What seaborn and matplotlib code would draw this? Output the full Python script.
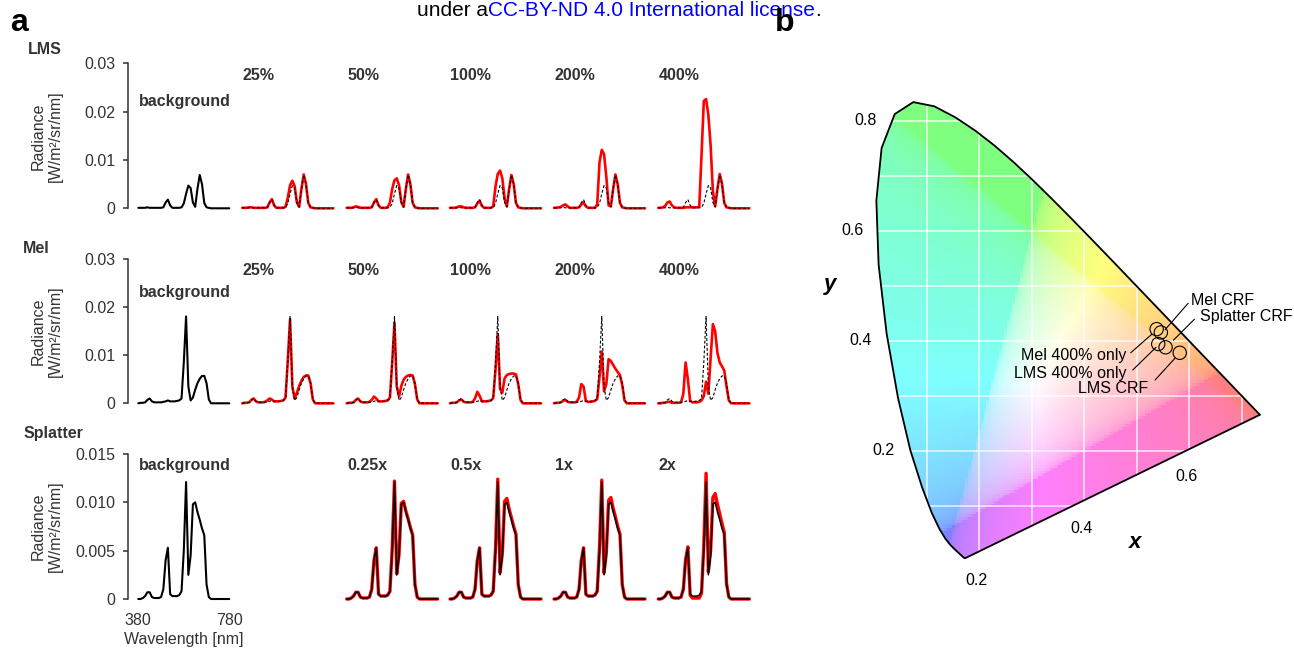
import numpy as np
import matplotlib
matplotlib.use("Agg")
import matplotlib.pyplot as plt
import seaborn as sns
from matplotlib.patches import Polygon

sns.set_theme(style="white")
plt.rcParams["font.family"] = ["Liberation Sans", "DejaVu Sans"]

# ---------------- data ----------------
WL = list(range(380, 781, 10))
Z9 = [0.0] * 9

LMS_BG = [0.0001,0.0001,0.0001,0.0001,0.0002,0.0001,0.0001,0.0001,0.0001,0.0001,
          0.0001,0.0002,0.0012,0.0018,0.0006,0.0001,0.0001,0.0001,0.0001,0.0002,
          0.0010,0.0030,0.0047,0.0042,0.0012,0.0003,0.0040,0.0069,0.0050,0.0011,
          0.0002,0.0001] + Z9
LMS_25 = [0.0001,0.0001,0.0001,0.0002,0.0002,0.0001,0.0001,0.0001,0.0001,0.0001,
          0.0001,0.0002,0.0012,0.0019,0.0006,0.0001,0.0001,0.0001,0.0001,0.0003,
          0.0022,0.0048,0.0057,0.0046,0.0012,0.0003,0.0040,0.0070,0.0050,0.0011,
          0.0002,0.0001] + Z9
LMS_50 = [0.0001,0.0001,0.0001,0.0002,0.0004,0.0003,0.0001,0.0001,0.0001,0.0001,
          0.0001,0.0002,0.0012,0.0019,0.0006,0.0001,0.0001,0.0001,0.0002,0.0012,
          0.0040,0.0058,0.0062,0.0048,0.0013,0.0003,0.0040,0.0070,0.0050,0.0011,
          0.0002,0.0001] + Z9
LMS_100 = [0.0001,0.0001,0.0001,0.0002,0.0004,0.0004,0.0002,0.0001,0.0001,0.0001,
           0.0001,0.0002,0.0010,0.0016,0.0005,0.0001,0.0001,0.0001,0.0001,0.0004,
           0.0045,0.0071,0.0078,0.0062,0.0020,0.0004,0.0040,0.0069,0.0050,0.0011,
           0.0002,0.0001] + Z9
LMS_200 = [0.0001,0.0001,0.0002,0.0003,0.0006,0.0008,0.0004,0.0001,0.0001,0.0001,
           0.0001,0.0002,0.0008,0.0012,0.0004,0.0001,0.0001,0.0001,0.0001,0.0008,
           0.0095,0.0121,0.0112,0.0065,0.0006,0.0004,0.0040,0.0070,0.0050,0.0011,
           0.0002,0.0001] + Z9
LMS_400 = [0.0001,0.0001,0.0002,0.0005,0.0012,0.0014,0.0006,0.0002,0.0001,0.0001,
           0.0001,0.0001,0.0002,0.0002,0.0002,0.0002,0.0002,0.0002,0.0003,0.0110,
           0.0222,0.0226,0.0193,0.0130,0.0035,0.0004,0.0040,0.0071,0.0051,0.0011,
           0.0002,0.0001] + Z9

MEL_BG = [0.0000,0.0001,0.0001,0.0002,0.0007,0.0010,0.0004,0.0002,0.0002,0.0002,
          0.0002,0.0003,0.0004,0.0006,0.0004,0.0004,0.0004,0.0005,0.0006,0.0010,
          0.0085,0.0181,0.0035,0.0006,0.0012,0.0028,0.0042,0.0051,0.0057,0.0057,
          0.0042,0.0008] + Z9
MEL_25 = [0.0000,0.0001,0.0001,0.0002,0.0007,0.0010,0.0004,0.0002,0.0002,0.0002,
          0.0003,0.0006,0.0010,0.0008,0.0004,0.0004,0.0004,0.0005,0.0006,0.0012,
          0.0090,0.0175,0.0035,0.0010,0.0022,0.0036,0.0047,0.0055,0.0058,0.0058,
          0.0042,0.0008] + Z9
MEL_50 = [0.0000,0.0001,0.0001,0.0002,0.0007,0.0010,0.0004,0.0002,0.0002,0.0002,
          0.0003,0.0007,0.0014,0.0010,0.0004,0.0004,0.0004,0.0005,0.0006,0.0012,
          0.0085,0.0168,0.0035,0.0014,0.0036,0.0049,0.0055,0.0058,0.0059,0.0058,
          0.0040,0.0008] + Z9
MEL_100 = [0.0000,0.0001,0.0001,0.0002,0.0006,0.0008,0.0003,0.0002,0.0002,0.0002,
           0.0003,0.0010,0.0024,0.0016,0.0004,0.0004,0.0004,0.0005,0.0006,0.0011,
           0.0070,0.0144,0.0030,0.0022,0.0052,0.0059,0.0061,0.0062,0.0062,0.0060,
           0.0040,0.0007] + Z9
MEL_200 = [0.0000,0.0001,0.0001,0.0002,0.0005,0.0007,0.0003,0.0002,0.0002,0.0002,
           0.0003,0.0012,0.0040,0.0035,0.0005,0.0003,0.0003,0.0004,0.0005,0.0009,
           0.0055,0.0108,0.0025,0.0040,0.0092,0.0088,0.0080,0.0072,0.0065,0.0059,
           0.0038,0.0006] + Z9
MEL_400 = [0.0000,0.0000,0.0001,0.0001,0.0003,0.0003,0.0001,0.0001,0.0001,0.0001,
           0.0002,0.0020,0.0085,0.0050,0.0005,0.0002,0.0002,0.0002,0.0003,0.0006,
           0.0015,0.0045,0.0020,0.0095,0.0165,0.0150,0.0105,0.0085,0.0077,0.0068,
           0.0035,0.0006] + Z9

SPL_BG = [0.0000,0.0000,0.0001,0.0003,0.0007,0.0007,0.0002,0.0001,0.0001,0.0001,
          0.0002,0.0010,0.0040,0.0053,0.0005,0.0003,0.0003,0.0003,0.0004,0.0008,
          0.0050,0.0121,0.0025,0.0045,0.0098,0.0100,0.0090,0.0082,0.0073,0.0066,
          0.0015,0.0002] + Z9
SPL_025 = [0.0000,0.0000,0.0001,0.0003,0.0007,0.0007,0.0002,0.0001,0.0001,0.0001,
           0.0002,0.0010,0.0040,0.0053,0.0005,0.0003,0.0003,0.0003,0.0004,0.0008,
           0.0052,0.0122,0.0026,0.0046,0.0099,0.0101,0.0091,0.0083,0.0074,0.0066,
           0.0015,0.0002] + Z9
SPL_05 = [0.0000,0.0000,0.0001,0.0003,0.0007,0.0007,0.0002,0.0001,0.0001,0.0001,
          0.0002,0.0010,0.0040,0.0053,0.0005,0.0003,0.0003,0.0003,0.0004,0.0008,
          0.0052,0.0124,0.0027,0.0047,0.0101,0.0104,0.0093,0.0084,0.0075,0.0067,
          0.0015,0.0002] + Z9
SPL_1 = [0.0000,0.0000,0.0001,0.0003,0.0007,0.0007,0.0002,0.0001,0.0001,0.0001,
         0.0002,0.0010,0.0040,0.0053,0.0005,0.0003,0.0003,0.0003,0.0004,0.0008,
         0.0053,0.0123,0.0027,0.0048,0.0102,0.0105,0.0094,0.0085,0.0075,0.0067,
         0.0015,0.0002] + Z9
SPL_2 = [0.0000,0.0000,0.0001,0.0003,0.0007,0.0007,0.0002,0.0001,0.0001,0.0001,
         0.0002,0.0010,0.0041,0.0054,0.0004,0.0001,0.0001,0.0001,0.0001,0.0006,
         0.0055,0.0130,0.0028,0.0050,0.0105,0.0109,0.0098,0.0088,0.0078,0.0069,
         0.0016,0.0002] + Z9

LMS_LABELS = ["25%", "50%", "100%", "200%", "400%"]
MEL_LABELS = ["25%", "50%", "100%", "200%", "400%"]
SPL_LABELS = ["0.25x", "0.5x", "1x", "2x"]

# CIE 1931 spectral locus (380-700 nm, 5 nm)
LOCUS_X = [0.1741,0.1740,0.1738,0.1736,0.1733,0.1730,0.1726,0.1721,0.1714,0.1703,
           0.1689,0.1669,0.1644,0.1611,0.1566,0.1510,0.1440,0.1355,0.1241,0.1096,
           0.0913,0.0687,0.0454,0.0235,0.0082,0.0039,0.0139,0.0389,0.0743,0.1142,
           0.1547,0.1929,0.2296,0.2658,0.3016,0.3373,0.3731,0.4087,0.4441,0.4788,
           0.5125,0.5448,0.5752,0.6029,0.6270,0.6482,0.6658,0.6801,0.6915,0.7006,
           0.7079,0.7140,0.7190,0.7230,0.7260,0.7283,0.7300,0.7311,0.7320,0.7327,
           0.7334,0.7340,0.7344,0.7346,0.7347]
LOCUS_Y = [0.0050,0.0050,0.0049,0.0049,0.0048,0.0048,0.0048,0.0048,0.0051,0.0058,
           0.0069,0.0086,0.0109,0.0138,0.0177,0.0227,0.0297,0.0399,0.0578,0.0868,
           0.1327,0.2007,0.2950,0.4127,0.5384,0.6548,0.7502,0.8120,0.8338,0.8262,
           0.8059,0.7816,0.7543,0.7243,0.6923,0.6589,0.6245,0.5896,0.5547,0.5202,
           0.4866,0.4544,0.4242,0.3965,0.3725,0.3514,0.3340,0.3197,0.3083,0.2993,
           0.2920,0.2859,0.2809,0.2770,0.2740,0.2717,0.2700,0.2689,0.2680,0.2673,
           0.2666,0.2660,0.2656,0.2654,0.2653]

POINT_NAMES = ["Mel 400% only", "Mel CRF", "LMS 400% only", "Splatter CRF", "LMS CRF"]
POINT_X = [0.538, 0.546, 0.541, 0.555, 0.582]
POINT_Y = [0.421, 0.415, 0.394, 0.388, 0.378]

# ---------------- figure ----------------
W, H = 1294, 648
fig = plt.figure(figsize=(W / 100, H / 100), dpi=100)
TXT = "#333333"
FS = 11.5


def add_ax(left, top, width, height):
    return fig.add_axes([left / W, 1 - (top + height) / H, width / W, height / H])


COL_LEFT = [138.3, 242.3, 346.7, 450.0, 554.0, 658.3]
COL_W = 91
ROWS = [
    dict(top=63.3, bot=208.3, ymax=0.03, bg=LMS_BG,
         mods=[LMS_25, LMS_50, LMS_100, LMS_200, LMS_400], labels=LMS_LABELS,
         cols=[1, 2, 3, 4, 5], name="LMS", name_x=28.3, name_y=50,
         bg_y=101.7, cond_y=75.5, style="dash",
         yticks=[0, 0.01, 0.02, 0.03], ytl=["0", "0.01", "0.02", "0.03"]),
    dict(top=259.3, bot=403.3, ymax=0.03, bg=MEL_BG,
         mods=[MEL_25, MEL_50, MEL_100, MEL_200, MEL_400], labels=MEL_LABELS,
         cols=[1, 2, 3, 4, 5], name="Mel", name_x=23.3, name_y=248.3,
         bg_y=292.7, cond_y=270.7, style="dash",
         yticks=[0, 0.01, 0.02, 0.03], ytl=["0", "0.01", "0.02", "0.03"]),
    dict(top=454.0, bot=599.0, ymax=0.015, bg=SPL_BG,
         mods=[SPL_025, SPL_05, SPL_1, SPL_2], labels=SPL_LABELS,
         cols=[2, 3, 4, 5], name="Splatter", name_x=23.3, name_y=433.3,
         bg_y=465.7, cond_y=465.0, style="solid",
         yticks=[0, 0.005, 0.010, 0.015], ytl=["0", "0.005", "0.010", "0.015"]),
]

for ri, row in enumerate(ROWS):
    h = row["bot"] - row["top"]
    # background panel
    ax = add_ax(COL_LEFT[0], row["top"], COL_W, h)
    sns.lineplot(x=WL, y=row["bg"], ax=ax, color="black", linewidth=1.5, clip_on=False)
    ax.set_xlim(380, 780)
    ax.set_ylim(0, row["ymax"])
    for s in ["top", "right", "bottom"]:
        ax.spines[s].set_visible(False)
    ax.spines["left"].set_position(("outward", 7.6))
    ax.spines["left"].set_color(TXT)
    ax.spines["left"].set_linewidth(1.1)
    ax.set_yticks(row["yticks"])
    ax.set_yticklabels(row["ytl"])
    ax.tick_params(axis="y", left=True, length=3.6, width=1.1, color=TXT,
                   labelsize=FS, labelcolor=TXT, pad=5.5)
    ax.set_xlabel("")
    ax.set_ylabel("")
    if ri == 2:
        ax.set_xticks([380, 780])
        ax.set_xticklabels(["380", "780"])
        ax.tick_params(axis="x", bottom=True, length=0, labelsize=FS,
                       labelcolor=TXT, pad=10)
    else:
        ax.set_xticks([])
    ax.patch.set_alpha(0)
    fig.text((COL_LEFT[0] + 1) / W, 1 - row["bg_y"] / H, "background",
             fontsize=FS, fontweight="bold", color=TXT, ha="left", va="center")
    fig.text(row["name_x"] / W, 1 - row["name_y"] / H, row["name"],
             fontsize=FS, fontweight="bold", color=TXT, ha="left", va="center")
    fig.text(47 / W, 1 - (row["top"] + row["bot"]) / 2 / H,
             "Radiance\n[W/m\u00b2/sr/nm]", rotation=90, ha="center",
             va="center", fontsize=FS, color=TXT, linespacing=1.2,
             multialignment="center")

    # modulation panels
    for ci, mod, lab in zip(row["cols"], row["mods"], row["labels"]):
        ax = add_ax(COL_LEFT[ci], row["top"], COL_W, h)
        if row["style"] == "dash":
            sns.lineplot(x=WL, y=mod, ax=ax, color="#ff0000", linewidth=1.9,
                         clip_on=False)
            sns.lineplot(x=WL, y=row["bg"], ax=ax, color="black", linewidth=0.8,
                         linestyle=(0, (2.6, 1.8)), clip_on=False)
        else:
            sns.lineplot(x=WL, y=mod, ax=ax, color="#ff0000", linewidth=2.4,
                         clip_on=False)
            sns.lineplot(x=WL, y=row["bg"], ax=ax, color="black", linewidth=1.1,
                         clip_on=False)
        ax.set_xlim(380, 780)
        ax.set_ylim(0, row["ymax"])
        ax.axis("off")
        fig.text((COL_LEFT[ci] + 0.5) / W, 1 - row["cond_y"] / H, lab,
                 fontsize=FS, fontweight="bold", color=TXT, ha="left", va="center")

fig.text(183.8 / W, 1 - 639.3 / H, "Wavelength [nm]", ha="center", va="center",
         fontsize=FS, color=TXT)

# ---------------- panel b: chromaticity diagram ----------------
X0, SX = 874.3, 524.8
Y0, SY = 560.7, 550.0
xl, xr = -0.12, 0.80
yb, yt = -0.08, 0.88
axb = fig.add_axes([(X0 + xl * SX) / W, 1 - (Y0 - yb * SY) / H,
                    (xr - xl) * SX / W, (yt - yb) * SY / H])
axb.set_xlim(xl, xr)
axb.set_ylim(yb, yt)
axb.axis("off")

xs = np.linspace(0.0, 0.75, 151)
ys = np.linspace(0.0, 0.85, 171)
GX, GY = np.meshgrid(xs, ys)
GYc = np.maximum(GY, 1e-3)
XYZ = np.stack([GX / GYc, np.ones_like(GX), (1 - GX - GY) / GYc], axis=-1)
M = np.array([[3.2406, -1.5372, -0.4986],
              [-0.9689, 1.8758, 0.0415],
              [0.0557, -0.2040, 1.0570]])
rgb = XYZ @ M.T
rgb = np.clip(rgb, 0, None)
rgb = rgb / np.maximum(rgb.max(axis=-1, keepdims=True), 1e-9)
rgb = np.where(rgb <= 0.0031308, 12.92 * rgb, 1.055 * np.power(rgb, 1 / 2.4) - 0.055)
rgb = np.clip(rgb, 0, 1) ** 0.65
img = 1 - 0.5 * (1 - rgb)

locus = np.column_stack([LOCUS_X, LOCUS_Y])
clip = Polygon(locus, closed=True, transform=axb.transData, fc="none", ec="none")
axb.add_patch(clip)
im = axb.imshow(img, extent=(0, 0.75, 0, 0.85), origin="lower", aspect="auto",
                interpolation="nearest", zorder=1)
im.set_clip_path(clip)

for g in [0.1, 0.2, 0.3, 0.4, 0.5, 0.6, 0.7]:
    ln, = axb.plot([g, g], [0, 0.9], color="white", lw=1.3, alpha=0.7, zorder=2)
    ln.set_clip_path(clip)
for g in [0.1, 0.2, 0.3, 0.4, 0.5, 0.6, 0.7, 0.8]:
    ln, = axb.plot([0, 0.8], [g, g], color="white", lw=1.3, alpha=0.7, zorder=2)
    ln.set_clip_path(clip)

axb.add_patch(Polygon(locus, closed=True, fc="none", ec="black", lw=1.3, zorder=3))

axb.scatter(POINT_X, POINT_Y, s=92, facecolors="none", edgecolors="black",
            linewidths=0.8, zorder=5)

# point labels with leader lines
LABEL_POS = {
    "Mel CRF": ((0.603, 0.474), "left", (0.598, 0.468), (0.554, 0.420)),
    "Splatter CRF": ((0.621, 0.4436), "left", (0.610, 0.439), (0.570, 0.401)),
    "Mel 400% only": ((0.481, 0.374), "right", (0.4886, 0.378), (0.5286, 0.4116)),
    "LMS 400% only": ((0.481, 0.3395), "right", (0.4924, 0.3467), (0.5368, 0.388)),
    "LMS CRF": ((0.522, 0.3135), "right", (0.535, 0.3285), (0.5728, 0.368)),
}
for name in POINT_NAMES:
    (tx, ty), ha, p0, p1 = LABEL_POS[name]
    axb.text(tx, ty, name, ha=ha, va="center", fontsize=FS, color="black", zorder=6)
    axb.plot([p0[0], p1[0]], [p0[1], p1[1]], color="black", lw=0.8, zorder=6)

# tick labels placed around the locus
for v, tx in zip([0.8, 0.6, 0.4, 0.2], [-0.0164, -0.041, -0.027, 0.0175]):
    axb.text(tx, v, f"{v:.1f}", ha="center", va="center", fontsize=11.5, color="black")
for v, tx, ty in zip([0.2, 0.4, 0.6], [0.195, 0.395, 0.595], [-0.036, 0.059, 0.153]):
    axb.text(tx, ty, f"{v:.1f}", ha="center", va="center", fontsize=11.5, color="black")
axb.text(0.497, 0.033, "x", ha="center", va="center", fontsize=16,
         fontweight="bold", fontstyle="italic", color="black")
axb.text(-0.0848, 0.503, "y", ha="center", va="center", fontsize=16,
         fontweight="bold", fontstyle="italic", color="black")

# ---------------- panel letters & header ----------------
fig.text(10 / W, 1 - 30.7 / H, "a", fontsize=23, fontweight="bold",
         ha="left", va="baseline", color="black")
fig.text(775 / W, 1 - 31 / H, "b", fontsize=23, fontweight="bold",
         ha="left", va="baseline", color="black", zorder=10)

renderer = fig.canvas.get_renderer()
t1 = fig.text(417 / W, 1 - 16.5 / H, "under a", fontsize=15, ha="left",
              va="baseline", color="black")
bb = t1.get_window_extent(renderer)
t2 = fig.text(bb.x1 / W, 1 - 16.5 / H, "CC-BY-ND 4.0 International license",
              fontsize=15, ha="left", va="baseline", color="#0000ff")
bb2 = t2.get_window_extent(renderer)
fig.text(bb2.x1 / W, 1 - 16.5 / H, ".", fontsize=15, ha="left",
         va="baseline", color="black")

fig.savefig("out.png", dpi=100)
